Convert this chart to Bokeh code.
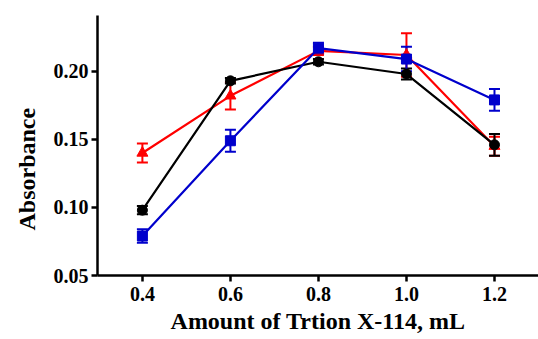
from bokeh.plotting import figure
from bokeh.models import ColumnDataSource, Whisker, TeeHead, FixedTicker, Range1d, Title
from bokeh.embed import file_html
from bokeh.resources import INLINE

x_vals = [0.4, 0.6, 0.8, 1.0, 1.2]
red_y = [0.140, 0.182, 0.215, 0.212, 0.145]
red_err = [0.007, 0.010, 0.003, 0.016, 0.007]
black_y = [0.098, 0.193, 0.207, 0.198, 0.146]
black_err = [0.003, 0.002, 0.002, 0.004, 0.008]
blue_y = [0.079, 0.149, 0.217, 0.209, 0.179]
blue_err = [0.005, 0.008, 0.004, 0.009, 0.008]
x_ticks = [0.4, 0.6, 0.8, 1.0, 1.2]
y_ticks = [0.05, 0.10, 0.15, 0.20]

FONT = "Liberation Serif"

p = figure(width=538, height=339, output_backend="svg", toolbar_location=None,
           x_range=Range1d(0.298, 1.30), y_range=Range1d(0.05, 0.241),
           min_border_left=97, min_border_right=0, min_border_top=15, min_border_bottom=64)
p.outline_line_color = None
p.grid.grid_line_color = None
p.background_fill_color = "white"

series = [
    (red_y, red_err, "#FF0000", "triangle", 11),
    (black_y, black_err, "#000000", "circle", 10),
    (blue_y, blue_err, "#0000CC", "square", 10),
]
for ys, errs, col, mk, sz in series:
    src = ColumnDataSource(dict(
        x=x_vals, y=ys,
        lo=[a - b for a, b in zip(ys, errs)],
        hi=[a + b for a, b in zip(ys, errs)],
    ))
    p.line("x", "y", source=src, line_color=col, line_width=2.2)
    w = Whisker(source=src, base="x", lower="lo", upper="hi", line_color=col, line_width=2,
                upper_head=TeeHead(size=11, line_color=col, line_width=2),
                lower_head=TeeHead(size=11, line_color=col, line_width=2))
    p.add_layout(w)
    p.scatter("x", "y", source=src, marker=mk, size=sz, fill_color=col, line_color=col)

for ax in (p.xaxis[0], p.yaxis[0]):
    ax.axis_line_width = 2.5
    ax.major_tick_line_width = 2.5
    ax.major_tick_out = 6
    ax.major_tick_in = 0
    ax.minor_tick_line_color = None
    ax.major_label_text_font = FONT
    ax.major_label_text_font_style = "bold"
    ax.major_label_text_font_size = "20px"
    ax.axis_label_text_font = FONT
    ax.axis_label_text_font_style = "bold"
    ax.axis_label_text_font_size = "24px"
    ax.major_label_text_color = "black"
    ax.axis_label_text_color = "black"

p.xaxis.ticker = FixedTicker(ticks=x_ticks)
p.yaxis.ticker = FixedTicker(ticks=y_ticks)
p.xaxis.major_label_overrides = {0.4: "0.4", 0.6: "0.6", 0.8: "0.8", 1.0: "1.0", 1.2: "1.2"}
p.yaxis.major_label_overrides = {0.05: "0.05", 0.1: "0.10", 0.15: "0.15", 0.2: "0.20"}
p.xaxis.axis_label = "Amount of Trtion X-114, mL"
p.xaxis.major_label_standoff = 5
p.yaxis.major_label_standoff = 3
p.xaxis.axis_label_standoff = 4

ytitle = Title(text="Absorbance", align="left", offset=45, standoff=22,
               text_font=FONT, text_font_style="bold", text_font_size="24px",
               text_color="black")
p.add_layout(ytitle, "left")

open("out.html", "w").write(file_html(p, INLINE))
